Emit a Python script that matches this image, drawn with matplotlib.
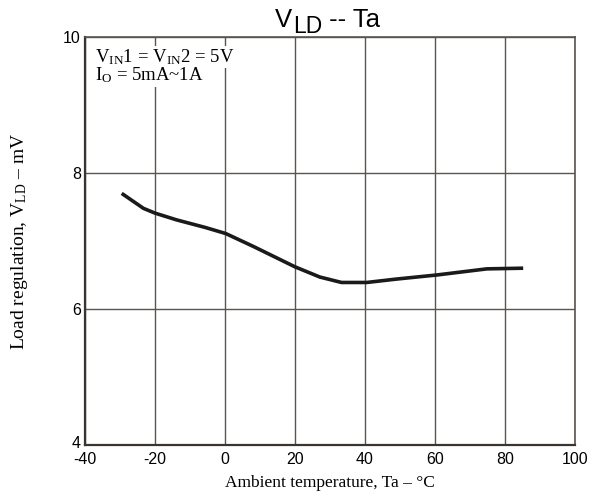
import numpy as np
import matplotlib.pyplot as plt
import matplotlib.transforms as mtransforms

plt.rcParams['mathtext.fontset'] = 'custom'
plt.rcParams['mathtext.rm'] = 'Liberation Serif'
plt.rcParams['mathtext.it'] = 'Liberation Serif:italic'
plt.rcParams['mathtext.sf'] = 'Liberation Sans'
plt.rcParams['axes.unicode_minus'] = False

# courbe
temp = [-29.5, -23.3, -20, -13.8, -5.7, 0.2, 8.1, 20, 27.1, 33.3, 40.5, 49, 60.5, 74.8, 85.2]
vld = [7.70, 7.48, 7.41, 7.31, 7.20, 7.11, 6.92, 6.62, 6.47, 6.39, 6.39, 6.44, 6.50, 6.59, 6.60]

x_ticks = [-40, -20, 0, 20, 40, 60, 80, 100]
y_ticks = [4, 6, 8, 10]

fig = plt.figure(figsize=(5.98, 4.95), dpi=100)
ax = fig.add_axes([0.1421, 0.1010, 0.8194, 0.8243])

ax.plot(temp, vld, color='#1a1a1a', lw=2.6, solid_capstyle='butt')

ax.set_xlim(-40, 100)
ax.set_ylim(4, 10)
ax.set_xticks(x_ticks)
ax.set_yticks(y_ticks)
ax.tick_params(length=0, labelsize=11.5)
ax.tick_params(axis='x', pad=5)
ax.tick_params(axis='y', pad=3)
for lab in ax.get_xticklabels() + ax.get_yticklabels():
    lab.set_family('Liberation Sans')
# le "4" un peu plus haut, comme sur l'original
lab4 = ax.get_yticklabels()[0]
lab4.set_transform(lab4.get_transform() + mtransforms.ScaledTranslation(0, 2 / 72, fig.dpi_scale_trans))

ax.grid(color='#5a5450', lw=1.0)

for s in ['left', 'bottom']:
    ax.spines[s].set_color('#3a3430')
    ax.spines[s].set_linewidth(1.6)
for s in ['top', 'right']:
    ax.spines[s].set_color('#5a5450')
    ax.spines[s].set_linewidth(1.2)

ax.set_xlabel('Ambient temperature, Ta – °C', family='Liberation Serif', fontsize=12.5, labelpad=6)
ax.set_ylabel(r'Load regulation, V$_{\rm LD}$ – mV', family='Liberation Serif', fontsize=14, labelpad=24)

# titre en trois morceaux pour avoir un gros indice
t1 = fig.text(275 / 598, 1 - 27 / 495, 'V', family='Liberation Sans', fontsize=18.5, ha='left', va='baseline')
t2 = ax.annotate('LD', xy=(1, 0), xycoords=t1, xytext=(0.5, -4), textcoords='offset points',
                 family='Liberation Sans', fontsize=16.5, ha='left', va='bottom')
t3 = ax.annotate(' -- Ta', xy=(1, 0), xycoords=t2, xytext=(0, 4), textcoords='offset points',
                 family='Liberation Sans', fontsize=18.5, ha='left', va='bottom')

ax.text(0.02, 0.975, 'V$_{\\rm IN}$1 = V$_{\\rm IN}$2 = 5V',
        transform=ax.transAxes, ha='left', va='top', family='Liberation Serif',
        fontsize=13.5, bbox=dict(facecolor='white', edgecolor='none', pad=1))
ax.text(0.02, 0.93, 'I$_{\\rm O}$ = 5mA~1A',
        transform=ax.transAxes, ha='left', va='top', family='Liberation Serif',
        fontsize=13.5, bbox=dict(facecolor='white', edgecolor='none', pad=1))

fig.savefig('out.png', dpi=100)
